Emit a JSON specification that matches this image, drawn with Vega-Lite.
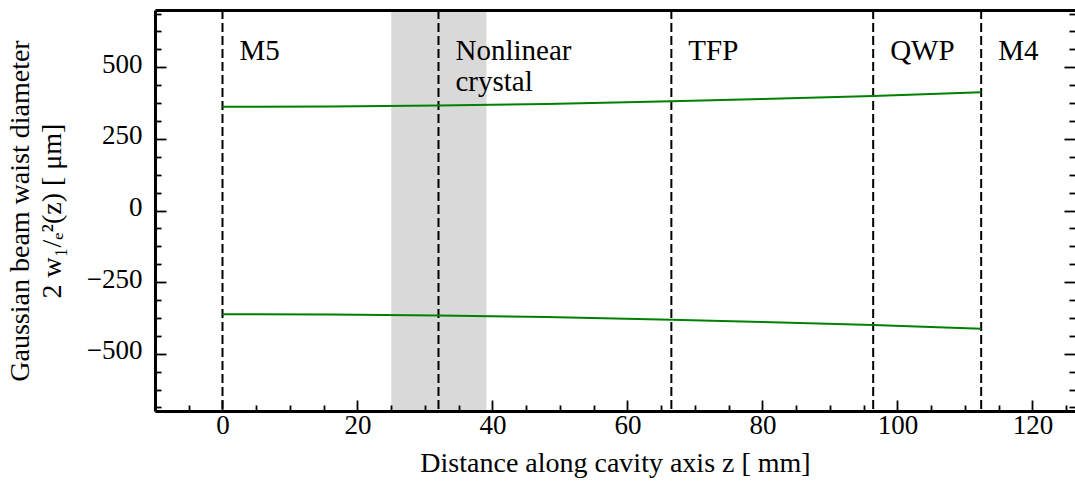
{
  "$schema": "https://vega.github.io/schema/vega-lite/v6.json",
  "width": 920,
  "height": 401,
  "autosize": {"type": "none"},
  "padding": {"left": 155, "top": 10, "right": 0, "bottom": 76},
  "background": "white",
  "config": {
    "view": {"stroke": null},
    "font": "Liberation Serif, Times New Roman, serif",
    "text": {"font": "Liberation Serif, Times New Roman, serif"},
    "axis": {
      "grid": false,
      "domainColor": "black",
      "domainWidth": 3,
      "tickColor": "black",
      "tickWidth": 1.8,
      "labelColor": "black",
      "labelFont": "Liberation Serif, Times New Roman, serif",
      "labelFontSize": 27,
      "titleFont": "Liberation Serif, Times New Roman, serif",
      "titleFontSize": 28,
      "titleFontWeight": "normal",
      "titleColor": "black",
      "zindex": 2
    }
  },
  "datasets": {
    "crystal": [{"start": 25, "end": 39.1}],
    "elements": [
      {"name": "M5", "z": 0},
      {"name": "Nonlinear\ncrystal", "z": 32},
      {"name": "TFP", "z": 66.5},
      {"name": "QWP", "z": 96.4},
      {"name": "M4", "z": 112.4}
    ],
    "beam": [
      {"side": "upper", "z": 0, "w": 362},
      {"side": "upper", "z": 16, "w": 363.5},
      {"side": "upper", "z": 32, "w": 366.5},
      {"side": "upper", "z": 48, "w": 372},
      {"side": "upper", "z": 66.5, "w": 381},
      {"side": "upper", "z": 80, "w": 389},
      {"side": "upper", "z": 96.4, "w": 400},
      {"side": "upper", "z": 112.4, "w": 413},
      {"side": "lower", "z": 0, "w": -362},
      {"side": "lower", "z": 16, "w": -363.5},
      {"side": "lower", "z": 32, "w": -366.5},
      {"side": "lower", "z": 48, "w": -372},
      {"side": "lower", "z": 66.5, "w": -381},
      {"side": "lower", "z": 80, "w": -389},
      {"side": "lower", "z": 96.4, "w": -400},
      {"side": "lower", "z": 112.4, "w": -413}
    ]
  },
  "layer": [
    {
      "data": {"name": "crystal"},
      "mark": {"type": "rect", "color": "#d9d9d9"},
      "encoding": {
        "x": {
          "field": "start",
          "type": "quantitative",
          "scale": {"domain": [-10, 126.3], "nice": false, "zero": false},
          "axis": {"orient": "top", "ticks": false, "labels": false, "title": null, "domain": true, "zindex": 2}
        },
        "x2": {"field": "end"}
      }
    },
    {
      "data": {"name": "elements"},
      "mark": {"type": "rule", "color": "black", "strokeWidth": 2, "strokeDash": [9, 4]},
      "encoding": {
        "x": {"field": "z", "type": "quantitative", "axis": null}
      }
    },
    {
      "data": {"name": "beam"},
      "mark": {"type": "line", "color": "#008000", "strokeWidth": 2},
      "encoding": {
        "x": {
          "field": "z",
          "type": "quantitative",
          "axis": {
            "orient": "bottom",
            "zindex": 2,
            "title": "Distance along cavity axis z [ mm]",
            "values": [-10, -5, 0, 5, 10, 15, 20, 25, 30, 35, 40, 45, 50, 55, 60, 65, 70, 75, 80, 85, 90, 95, 100, 105, 110, 115, 120, 125],
            "labelExpr": "datum.value % 20 === 0 ? datum.label : ''",
            "tickSize": {"condition": {"test": "datum.value % 20 === 0", "value": -11}, "value": -6},
            "labelPadding": 12,
            "labelFlush": false,
            "labelOverlap": false,
            "titlePadding": 6
          }
        },
        "y": {
          "field": "w",
          "type": "quantitative",
          "scale": {"domain": [-700, 700], "nice": false, "zero": false},
          "axis": {
            "orient": "left",
            "zindex": 2,
            "title": ["Gaussian beam waist diameter", "2 w₁/ₑ²(z) [ μm]"],
            "titleLineHeight": 32,
            "titlePadding": 20,
            "values": [-687.5, -625, -562.5, -500, -437.5, -375, -312.5, -250, -187.5, -125, -62.5, 0, 62.5, 125, 187.5, 250, 312.5, 375, 437.5, 500, 562.5, 625, 687.5],
            "labelExpr": "datum.value % 250 === 0 ? datum.label : ''",
            "tickSize": {"condition": {"test": "datum.value % 250 === 0", "value": -11}, "value": -6},
            "labelPadding": 24,
            "labelOffset": -3,
            "labelFlush": false,
            "labelOverlap": false
          }
        },
        "detail": {"field": "side"}
      }
    },
    {
      "data": {"name": "elements"},
      "mark": {
        "type": "text",
        "align": "left",
        "baseline": "alphabetic",
        "dx": 17,
        "font": "Liberation Serif, Times New Roman, serif",
        "fontSize": 29,
        "lineHeight": 31,
        "lineBreak": "\n",
        "color": "black"
      },
      "encoding": {
        "x": {"field": "z", "type": "quantitative", "axis": null},
        "y": {
          "datum": 525,
          "type": "quantitative",
          "axis": {
            "orient": "right",
            "zindex": 2,
            "labels": false,
            "domain": false,
            "title": null,
            "values": [-687.5, -625, -562.5, -500, -437.5, -375, -312.5, -250, -187.5, -125, -62.5, 0, 62.5, 125, 187.5, 250, 312.5, 375, 437.5, 500, 562.5, 625, 687.5],
            "tickSize": {"condition": {"test": "datum.value % 250 === 0", "value": -11}, "value": -6}
          }
        },
        "text": {"field": "name"}
      }
    }
  ],
  "resolve": {"axis": {"x": "independent", "y": "independent"}}
}
